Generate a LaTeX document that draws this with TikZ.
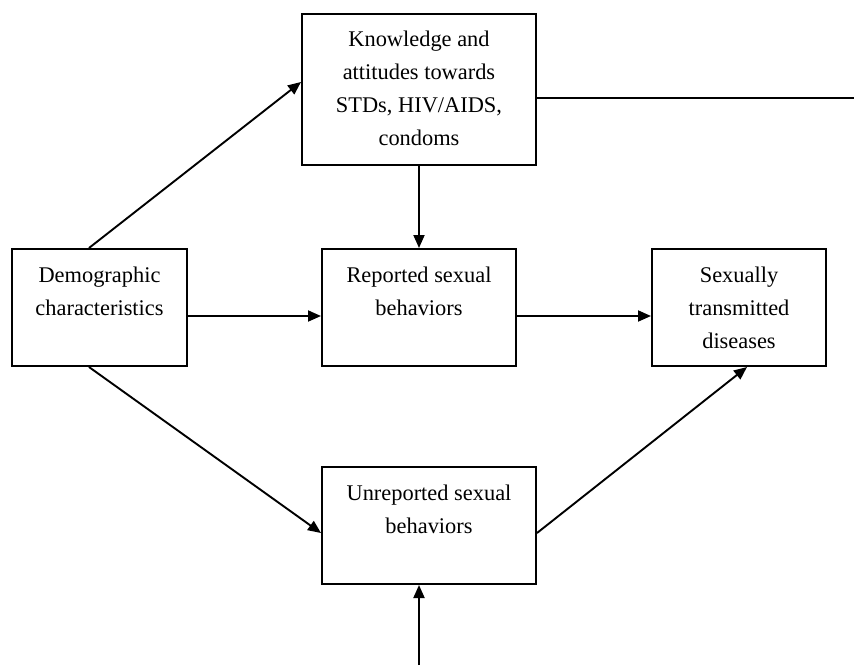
\documentclass[tikz,border=0pt]{standalone}
\usepackage{fontspec}
\setmainfont{Liberation Serif}
\usetikzlibrary{arrows.meta,calc}
\begin{document}
\begin{tikzpicture}[x=1pt,y=-1pt,
  boxstyle/.style={draw,line width=2pt,rectangle,inner sep=0pt},
  txt/.style={anchor=base,align=center,inner sep=0pt,font=\fontsize{22.4}{33}\selectfont},
  arr/.style={line width=1.9pt,-{Triangle[length=13pt,width=11pt]}},
  plain/.style={line width=1.9pt}]
\useasboundingbox (0,0) rectangle (854,665);
\node[boxstyle,minimum width=234pt,minimum height=151pt] (know) at (419,89.5) {};
\node[boxstyle,minimum width=175pt,minimum height=117pt] (demo) at (99.5,307.5) {};
\node[boxstyle,minimum width=194pt,minimum height=117pt] (rep) at (419,307.5) {};
\node[boxstyle,minimum width=174pt,minimum height=117pt] (std) at (739,307.5) {};
\node[boxstyle,minimum width=214pt,minimum height=117pt] (unrep) at (429,525.5) {};
\node[txt] (knowt) at ($(know.north)+(0,132)$) {Knowledge and\\attitudes towards\\STDs, HIV/AIDS,\\condoms};
\node[txt] (demot) at ($(demo.north)+(0,67)$) {Demographic\\characteristics};
\node[txt] (rept) at ($(rep.north)+(0,67)$) {Reported sexual\\behaviors};
\node[txt] (stdt) at ($(std.north)+(0,100)$) {Sexually\\transmitted\\diseases};
\node[txt] (unrept) at ($(unrep.north)+(0,67)$) {Unreported sexual\\behaviors};
\coordinate (rightend) at (854,98);
\coordinate (bottomend) at (419,665);
\draw[arr] ($(demo.north west)+(78,0)$) -- ($(know.north west)+(0,69)$);
\draw[arr] (know.south) -- (rep.north);
\draw[arr] ($(demo.east)+(0,8.5)$) -- ($(rep.west)+(0,8.5)$);
\draw[arr] ($(rep.east)+(0,8.5)$) -- ($(std.west)+(0,8.5)$);
\draw[arr] ($(demo.south west)+(78,0)$) -- ($(unrep.west)+(0,7.5)$);
\draw[arr] ($(unrep.east)+(0,7.5)$) -- ($(std.south)+(8,0)$);
\draw[arr] (bottomend) -- ($(unrep.south)+(-10,0)$);
\draw[plain] ($(know.east)+(0,8.5)$) -- (rightend);
\end{tikzpicture}
\end{document}
